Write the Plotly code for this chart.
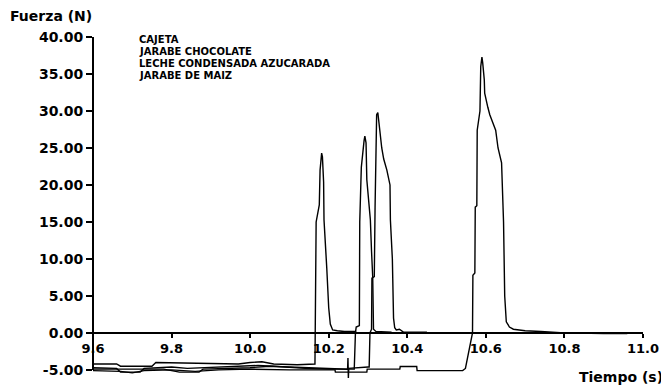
import plotly.graph_objects as go

# ---------------- data ----------------
series_names = ["CAJETA", "JARABE CHOCOLATE", "LECHE CONDENSADA AZUCARADA", "JARABE DE MAIZ"]

# (tiempo s, fuerza N)
cajeta = [
    (9.60, -4.2), (9.66, -4.2), (9.67, -4.5), (9.75, -4.5), (9.76, -4.0), (9.90, -4.1),
    (9.97, -4.2), (10.00, -4.0), (10.03, -3.9), (10.06, -4.2), (10.12, -4.3), (10.165, -4.2),
    (10.166, 3.0), (10.167, 9.5), (10.168, 15.0), (10.176, 17.3), (10.178, 22.0), (10.182, 24.3),
    (10.184, 23.8), (10.187, 20.4), (10.188, 15.3), (10.195, 8.8), (10.200, 3.4), (10.204, 1.2),
    (10.210, 0.4), (10.222, 0.3), (10.240, 0.2), (10.270, 0.2),
]
jarabe_chocolate = [
    (9.60, -4.7), (9.66, -4.8), (9.67, -5.3), (9.72, -5.3), (9.73, -4.8), (9.80, -4.6),
    (9.84, -4.8), (9.88, -4.7), (9.95, -4.6), (10.02, -4.4), (10.06, -4.5), (10.10, -4.7),
    (10.14, -4.8), (10.20, -4.9), (10.24, -4.9), (10.265, -4.9), (10.268, 0.0), (10.270, 0.8),
    (10.278, 1.0), (10.279, 15.0), (10.283, 22.4), (10.286, 24.5), (10.290, 26.0), (10.292, 26.6),
    (10.295, 25.7), (10.297, 20.7), (10.306, 15.3), (10.309, 11.0), (10.312, 7.6), (10.314, 0.5),
    (10.320, 0.2), (10.360, 0.1),
]
leche_condensada = [
    (9.60, -4.9), (9.65, -4.9), (9.70, -5.0), (9.78, -4.9), (9.82, -5.3), (9.87, -5.3),
    (9.88, -4.9), (9.95, -4.8), (10.00, -4.7), (10.05, -4.5), (10.10, -4.6), (10.15, -4.7),
    (10.20, -4.8), (10.248, -4.9), (10.249, -3.4), (10.250, -6.1), (10.251, -4.8), (10.300, -4.6),
    (10.303, -4.6), (10.305, 0.0), (10.309, 0.5), (10.310, 7.4), (10.316, 7.6), (10.318, 17.0),
    (10.320, 28.8), (10.322, 29.5), (10.325, 29.8), (10.327, 29.0), (10.330, 27.4), (10.335, 25.0),
    (10.340, 23.5), (10.348, 22.0), (10.352, 21.0), (10.356, 20.0), (10.357, 15.3), (10.362, 10.0),
    (10.365, 2.0), (10.368, 0.7), (10.372, 0.4), (10.380, 0.5), (10.390, 0.1), (10.450, 0.1),
]
jarabe_maiz = [
    (9.60, -5.1), (9.67, -5.2), (9.70, -5.4), (9.73, -5.1), (9.80, -5.0), (9.86, -5.2),
    (9.92, -5.0), (10.00, -4.9), (10.10, -5.0), (10.20, -5.0), (10.216, -5.0), (10.217, -5.3),
    (10.297, -5.3), (10.298, -4.9), (10.381, -4.9), (10.382, -4.55), (10.424, -4.55), (10.425, -5.1),
    (10.541, -5.1), (10.548, -4.8), (10.556, -2.7), (10.566, 0.0), (10.567, 7.8), (10.572, 8.1),
    (10.573, 17.0), (10.577, 17.2), (10.578, 27.4), (10.585, 30.0), (10.587, 36.0), (10.590, 37.3),
    (10.592, 36.5), (10.596, 34.2), (10.597, 32.4), (10.600, 31.5), (10.605, 30.5), (10.610, 29.5),
    (10.618, 28.5), (10.625, 27.4), (10.631, 25.0), (10.640, 23.0), (10.645, 15.0), (10.648, 5.0),
    (10.652, 1.5), (10.660, 0.8), (10.670, 0.5), (10.700, 0.3), (10.740, 0.2), (10.800, 0.0),
    (10.900, -0.1), (10.960, -0.1),
]
all_series = [cajeta, jarabe_chocolate, leche_condensada, jarabe_maiz]

x_ticks = [9.6, 9.8, 10.0, 10.2, 10.4, 10.6, 10.8, 11.0]
x_tick_labels = ["9.6", "9.8", "10.0", "10.2", "10.4", "10.6", "10.8", "11.0"]
y_ticks = [-5, 0, 5, 10, 15, 20, 25, 30, 35, 40]
y_tick_labels = ["-5.00", "0.00", "5.00", "10.00", "15.00", "20.00", "25.00", "30.00", "35.00", "40.00"]

y_title = "Fuerza (N)"
x_title = "Tiempo (s)"

x_range = [9.6, 11.0]
y_range = [-6.5, 40]

# ---------------- figure ----------------
FONT = "DejaVu Sans"
OFF = 8  # default page body margin in the browser
W, H = 669 - OFF, 386 - OFF
ml, mt = 93 - OFF, 37 - OFF
mr = W - (643 - OFF)
mb = H - (381 - OFF)

fig = go.Figure()
for name, pts in zip(series_names, all_series):
    fig.add_trace(go.Scatter(
        x=[p[0] for p in pts], y=[p[1] for p in pts], name=name, mode="lines",
        line=dict(color="black", width=1.4), showlegend=False,
    ))

fig.update_layout(
    width=W, height=H,
    margin=dict(l=ml, r=mr, t=mt, b=mb),
    paper_bgcolor="white", plot_bgcolor="white",
    font=dict(family=FONT, color="black"),
)
x_axis_pos = (0 - y_range[0]) / (y_range[1] - y_range[0])
fig.update_xaxes(
    range=x_range, tickmode="array", tickvals=x_ticks, ticktext=x_tick_labels,
    showgrid=False, zeroline=False, showline=True, linecolor="black", linewidth=1.5,
    ticks="outside", ticklen=4, tickwidth=1.5, tickcolor="black",
    anchor="free", position=x_axis_pos,
    tickfont=dict(family=FONT, size=13, color="black", weight="bold"),
)
fig.update_yaxes(
    range=y_range, tickmode="array", tickvals=y_ticks, ticktext=y_tick_labels,
    showgrid=False, zeroline=False, showline=False,
    ticks="outside", ticklen=6, tickwidth=1.5, tickcolor="black",
    tickfont=dict(family=FONT, size=14, color="black", weight="bold"),
)
# y axis line from the lowest to the highest tick
fig.add_shape(type="line", xref="paper", yref="y", x0=0, x1=0,
              y0=y_ticks[0], y1=y_ticks[-1], line=dict(color="black", width=2))

plot_w = W - ml - mr
plot_h = H - mt - mb

def px_x(px):
    return (px - OFF - ml) / plot_w

def px_y(py):
    return (H - mb - (py - OFF)) / plot_h

fig.add_annotation(text=y_title, xref="paper", yref="paper", x=px_x(8), y=px_y(16),
                   xanchor="left", yanchor="middle", showarrow=False,
                   font=dict(family=FONT, size=14, color="black", weight="bold"))
fig.add_annotation(text=x_title, xref="paper", yref="paper", x=px_x(665), y=px_y(377),
                   xanchor="right", yanchor="middle", showarrow=False,
                   font=dict(family=FONT, size=14, color="black", weight="bold"))

legend_y = [39.5, 51.5, 63.5, 75.5]
for name, py in zip(series_names, legend_y):
    fig.add_annotation(text=name, xref="paper", yref="paper", x=px_x(137), y=px_y(py),
                       xanchor="left", yanchor="middle", showarrow=False,
                       font=dict(family=FONT, size=10, color="black", weight="bold"))

fig.write_html("out.html")
